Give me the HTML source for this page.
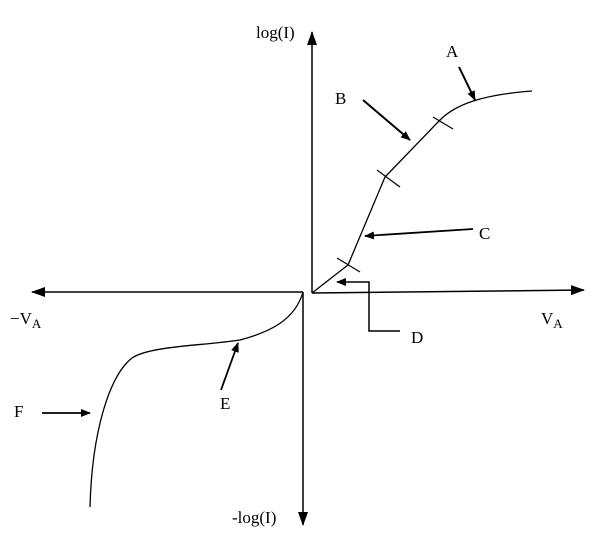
<!DOCTYPE html>
<html><head><style>
html,body{margin:0;padding:0;background:#fff;}
svg{display:block;}
text{font-family:"Liberation Serif",serif;font-size:17px;fill:#000;}
</style></head><body>
<svg width="611" height="549" viewBox="0 0 611 549" xmlns="http://www.w3.org/2000/svg">
<defs>
<marker id="ah" markerWidth="10" markerHeight="8" refX="9" refY="4" orient="auto" markerUnits="userSpaceOnUse">
<path d="M0,0 L10,4 L0,8 Z" fill="#000"/>
</marker>
<marker id="ab" markerWidth="14" markerHeight="10" refX="13" refY="5" orient="auto" markerUnits="userSpaceOnUse">
<path d="M0,0 L14,5 L0,10 Z" fill="#000"/>
</marker>
</defs>
<g stroke="#000" stroke-width="1.5" fill="none">
<line x1="312" y1="293" x2="312" y2="32" marker-end="url(#ab)"/>
<line x1="303" y1="292" x2="303" y2="525" marker-end="url(#ab)"/>
<line x1="303" y1="292" x2="32" y2="292" marker-end="url(#ab)"/>
<line x1="312" y1="293" x2="584" y2="290" marker-end="url(#ab)"/>
<path d="M312,293 L348,265 L385,177 L440,120 C455,105 480,95 532,91" stroke-width="1.3"/>
<line x1="337" y1="258" x2="360" y2="272" stroke-width="1.2"/>
<line x1="377" y1="170" x2="400" y2="187" stroke-width="1.2"/>
<line x1="433" y1="117" x2="453" y2="129" stroke-width="1.2"/>
<path d="M303,292 C295,320 270,332 240,340 C200,346 150,346 132,358 C110,375 92,430 90,507" stroke-width="1.3"/>
<line x1="459" y1="67" x2="475" y2="100" stroke-width="2" marker-end="url(#ah)"/>
<line x1="363" y1="100" x2="410" y2="140" stroke-width="2" marker-end="url(#ah)"/>
<line x1="473" y1="229" x2="365" y2="236" stroke-width="1.8" marker-end="url(#ah)"/>
<polyline points="400,331 369,331 369,282 337,282" stroke-width="1.5" marker-end="url(#ah)"/>
<line x1="221" y1="390" x2="238" y2="343" stroke-width="1.8" marker-end="url(#ah)"/>
<line x1="42" y1="413" x2="90" y2="413" stroke-width="1.8" marker-end="url(#ah)"/>
</g>
<text x="256" y="38">log(I)</text>
<text x="446" y="57">A</text>
<text x="335" y="104">B</text>
<text x="479" y="239">C</text>
<text x="411" y="343">D</text>
<text x="541" y="324">V<tspan font-size="13" dy="4">A</tspan></text>
<text x="10" y="324">−V<tspan font-size="13" dy="4">A</tspan></text>
<text x="14" y="417">F</text>
<text x="220" y="409">E</text>
<text x="232" y="523">-log(I)</text>
</svg>
</body></html>
